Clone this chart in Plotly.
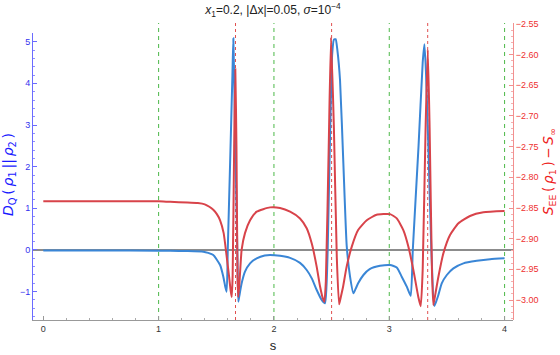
import plotly.graph_objects as go

# ---- data ----
blue_s = [0.00, 0.50, 1.00, 1.10, 1.25, 1.388, 1.430, 1.474, 1.533, 1.561, 1.578, 1.590,
          1.600, 1.620, 1.640, 1.648, 1.660, 1.675, 1.685, 1.691, 1.700, 1.720,
          1.749, 1.793, 1.850, 1.920, 1.966, 2.053, 2.140, 2.226, 2.284, 2.328,
          2.371, 2.414, 2.443, 2.455, 2.466, 2.490, 2.505, 2.520, 2.535, 2.550,
          2.573, 2.602, 2.631, 2.660, 2.689, 2.710, 2.730, 2.776, 2.830, 2.920,
          3.007, 3.065, 3.108, 3.152, 3.186, 3.204, 3.254, 3.290, 3.305, 3.318,
          3.339, 3.365, 3.390, 3.405, 3.426, 3.455, 3.499, 3.556, 3.643, 3.759,
          3.874, 4.000]
blue_d = [-0.01, -0.01, -0.015, -0.02, -0.025, -0.04, -0.07, -0.12, -0.36, -0.64, -0.88, -1.00,
          0.05, 2.10, 4.20, 5.08, 3.30, 1.10, -0.40, -1.24, -1.10, -0.80,
          -0.52, -0.32, -0.20, -0.13, -0.12, -0.14, -0.19, -0.31, -0.48, -0.68,
          -0.96, -1.20, -1.28, -0.90, 0.00, 3.20, 4.70, 5.05, 5.06, 4.80,
          4.08, 2.08, 0.10, -0.64, -1.04, -0.92, -0.80, -0.60, -0.46, -0.38,
          -0.36, -0.42, -0.64, -0.88, -1.10, 0.00, 2.50, 4.50, 4.94, 4.30,
          2.50, 0.00, -1.34, -1.25, -1.08, -0.80, -0.60, -0.44, -0.32, -0.26,
          -0.22, -0.20]

red_s = [0.00, 0.50, 1.00, 1.10, 1.25, 1.340, 1.400, 1.440, 1.474, 1.505, 1.533, 1.564, 1.590,
         1.610, 1.625, 1.634, 1.642, 1.655, 1.665, 1.675, 1.684, 1.690, 1.700, 1.720,
         1.749, 1.793, 1.850, 1.966, 2.053, 2.140, 2.226, 2.284, 2.328, 2.371,
         2.400, 2.425, 2.437, 2.450, 2.475, 2.495, 2.520, 2.545, 2.565, 2.580,
         2.600, 2.630, 2.675, 2.730, 2.805, 2.890, 3.007, 3.065, 3.122, 3.166,
         3.209, 3.252, 3.273, 3.290, 3.315, 3.334, 3.350, 3.370, 3.382, 3.400,
         3.426, 3.469, 3.527, 3.600, 3.700, 3.816, 4.000]
red_v = [-2.839, -2.839, -2.839, -2.840, -2.841, -2.842, -2.844, -2.848, -2.853, -2.860, -2.870, -2.891, -2.929,
         -2.960, -2.985, -2.995, -2.960, -2.750, -2.624, -2.750, -2.960, -2.995, -2.975, -2.918,
         -2.891, -2.870, -2.856, -2.849, -2.850, -2.856, -2.867, -2.883, -2.908, -2.946,
         -2.978, -2.998, -3.003, -2.970, -2.750, -2.572, -2.720, -2.930, -3.007, -2.995,
         -2.978, -2.946, -2.913, -2.886, -2.870, -2.861, -2.860, -2.867, -2.886, -2.913,
         -2.951, -2.995, -3.010, -2.950, -2.720, -2.592, -2.720, -2.950, -3.008, -2.990,
         -2.962, -2.924, -2.894, -2.875, -2.863, -2.857, -2.855]

green_marks = [1, 2, 3, 4]
red_marks = [5 / 3, 2.5, 10 / 3]

x_ticks = [0, 1, 2, 3, 4]
left_ticks = [-1, 0, 1, 2, 3, 4, 5]
right_ticks = [-3.00, -2.95, -2.90, -2.85, -2.80, -2.75, -2.70, -2.65, -2.60, -2.55]

BLUE = "#3a86d6"
RED = "#d8434a"
FONT = "Liberation Sans, Arial, sans-serif"
LABEL_FONT = "DejaVu Sans, Liberation Sans, sans-serif"
TS = "\u2009"  # thin space

fig = go.Figure()
fig.add_trace(go.Scatter(x=blue_s, y=blue_d, mode="lines", xaxis="x", yaxis="y",
                         line=dict(color=BLUE, width=2, shape="spline", smoothing=0.5),
                         showlegend=False, hoverinfo="skip"))
fig.add_trace(go.Scatter(x=red_s, y=red_v, mode="lines", xaxis="x", yaxis="y2",
                         line=dict(color=RED, width=2, shape="spline", smoothing=0.5),
                         showlegend=False, hoverinfo="skip"))

shapes = []
for g in green_marks:
    shapes.append(dict(type="line", xref="x", yref="paper", x0=g, x1=g, y0=0, y1=1,
                       line=dict(color="#4cb848", width=1, dash="4px,4px"), layer="below"))
for r in red_marks:
    shapes.append(dict(type="line", xref="x", yref="paper", x0=r, x1=r, y0=0, y1=1,
                       line=dict(color="#e05050", width=1, dash="3px,3px"), layer="below"))
shapes.append(dict(type="line", xref="paper", yref="y", x0=0, x1=1, y0=0, y1=0,
                   line=dict(color="#666666", width=1.3), layer="below"))

left_label = ("<i>D</i><sub>Q</sub>" + TS + "(" + TS + "<i>ρ</i><sub>1</sub>" + TS + "||" + TS
              + "<i>ρ</i><sub>2</sub>" + TS + ")")
right_label = ("<i>S</i><sub>EE</sub>" + TS + "(" + TS + "<i>ρ</i><sub>1</sub>" + TS + ")" + TS + "−"
               + TS + "<i>S</i><sub>∞</sub>")

annotations = [
    dict(text=left_label,
         xref="paper", yref="paper", x=-0.05, y=0.488, xanchor="center", yanchor="middle",
         textangle=-90, showarrow=False, font=dict(family=LABEL_FONT, size=14, color="#1a1aff")),
    dict(text=right_label,
         xref="paper", yref="paper", x=1.075, y=0.498, xanchor="center", yanchor="middle",
         textangle=-90, showarrow=False, font=dict(family=LABEL_FONT, size=13.5, color="#ee2020")),
]

fig.update_layout(
    width=560, height=355,
    margin=dict(l=33, r=47, t=23, b=35, autoexpand=False),
    paper_bgcolor="white", plot_bgcolor="rgba(0,0,0,0)",
    font=dict(family=FONT, size=10, color="#333333"),
    title=dict(text="<i>x</i><sub>1</sub>=0.2, |Δx|=0.05, <i>σ</i>=10<sup>−4</sup>",
               x=0.4875, xanchor="center", y=0.972, yanchor="middle",
               font=dict(family=FONT, size=12, color="#222222")),
    shapes=shapes,
    annotations=annotations,
    xaxis=dict(domain=[0, 1], range=[-0.0893, 4.073], anchor="y", automargin=False,
               showline=True, linecolor="#999999", linewidth=1,
               showgrid=False, zeroline=False,
               tickvals=x_ticks, ticktext=[str(t) for t in x_ticks],
               ticks="inside", ticklen=4, tickcolor="#999999",
               minor=dict(dtick=0.2, tick0=0, ticks="inside", ticklen=2, tickcolor="#aaaaaa"),
               tickfont=dict(size=9, color="#333333"),
               title=dict(text="s", standoff=8, font=dict(size=13, color="#222222"))),
    yaxis=dict(domain=[0, 0.9663], range=[-1.68, 5.208], anchor="x", automargin=False,
               showline=True, linecolor="#6b6bff", linewidth=1,
               showgrid=False, zeroline=False,
               tickvals=left_ticks, ticktext=[str(t).replace("-", "−") for t in left_ticks],
               ticks="inside", ticklen=4, tickcolor="#6b6bff",
               minor=dict(dtick=0.2, tick0=0, ticks="inside", ticklen=2, tickcolor="#9090ff"),
               tickfont=dict(size=9, color="#3333ee")),
    yaxis2=dict(domain=[0, 1], range=[-3.0326, -2.5484], anchor="x", side="right", automargin=False,
                showline=True, linecolor="#f29090", linewidth=1,
                showgrid=False, zeroline=False,
                tickvals=right_ticks, ticktext=["{:.2f}".format(t).replace("-", "−") for t in right_ticks],
                ticks="inside", ticklen=4, tickcolor="#f29090",
                minor=dict(dtick=0.01, tick0=-3.0, ticks="inside", ticklen=2, tickcolor="#f5b0b0"),
                tickfont=dict(size=9, color="#ee3030")),
)

fig.write_html("out.html", config={"displayModeBar": False},
               post_script="document.body.style.margin='0px';")
